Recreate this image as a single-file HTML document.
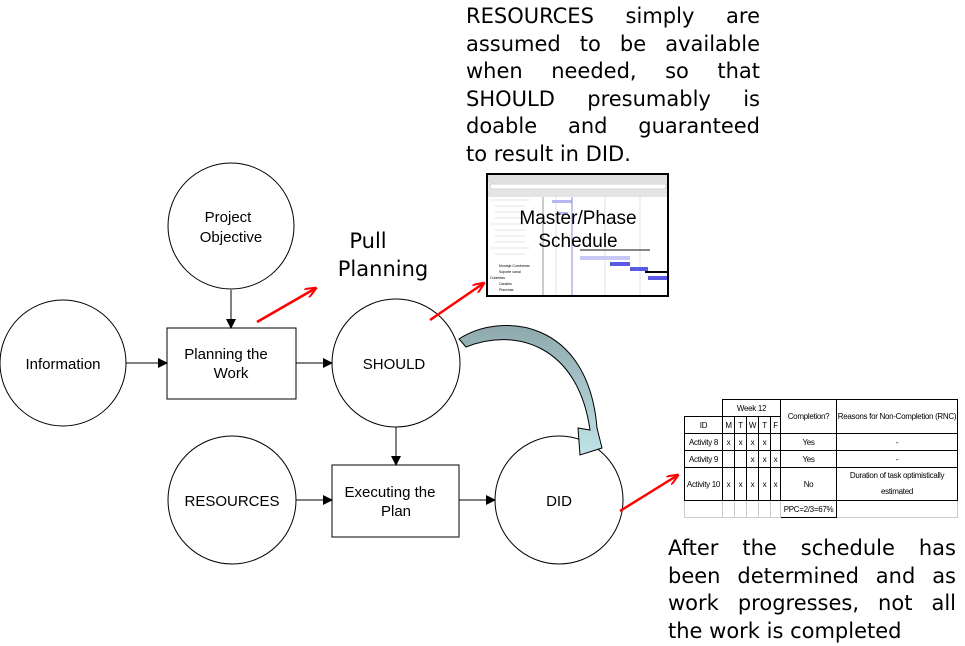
<!DOCTYPE html>
<html><head><meta charset="utf-8"><style>
body{margin:0;width:965px;height:646px;background:#fff;position:relative;overflow:hidden;font-family:"Liberation Sans",sans-serif}
.t{position:absolute;font-family:"DejaVu Sans","Liberation Sans",sans-serif;font-size:21px;line-height:27.5px;text-align:justify;text-align-last:justify;color:#000}
.t span{display:block}
.t span.l{text-align-last:left}
table{position:absolute;left:684px;top:399px;border-collapse:collapse;table-layout:fixed;width:273px;font-family:"Liberation Sans Narrow","Liberation Sans",sans-serif;font-size:8px;letter-spacing:-0.3px}
td{border:1px solid #000;text-align:center;padding:0;height:16px;white-space:nowrap;overflow:hidden;line-height:15px}
</style></head><body>
<svg width="965" height="646" style="position:absolute;left:0;top:0">
<defs><marker id="a" markerWidth="10" markerHeight="10" refX="9" refY="5" orient="auto" markerUnits="userSpaceOnUse"><path d="M0,0 L10,5 L0,10 z" fill="#000"/></marker>
<marker id="r" markerWidth="12" markerHeight="10" refX="11" refY="5" orient="auto" markerUnits="userSpaceOnUse"><path d="M0,0 L12,5 L0,10" fill="none" stroke="red" stroke-width="2"/></marker>
<linearGradient id="g" x1="0" y1="0" x2="0" y2="1"><stop offset="0" stop-color="#8fa9ad"/><stop offset="1" stop-color="#bfe3e8"/></linearGradient></defs>
<g fill="#fff" stroke="#000" stroke-width="1">
<circle cx="231" cy="226" r="63"/><circle cx="63" cy="363" r="63"/><circle cx="396" cy="363" r="64"/><circle cx="232" cy="500" r="64"/><circle cx="559" cy="500" r="64"/>
<rect x="167" y="328" width="129" height="71"/><rect x="332" y="465" width="127" height="72"/>
</g>
<g stroke="#000" stroke-width="1" marker-end="url(#a)">
<line x1="231" y1="290" x2="231" y2="328"/><line x1="126" y1="363" x2="167" y2="363"/><line x1="296" y1="363" x2="332" y2="363"/>
<line x1="396" y1="427" x2="396" y2="465"/><line x1="296" y1="500" x2="332" y2="500"/><line x1="459" y1="500" x2="495" y2="500"/>
</g>
<g stroke="red" stroke-width="2.5" marker-end="url(#r)">
<line x1="257" y1="322" x2="316" y2="288"/><line x1="430" y1="320" x2="484" y2="283"/><line x1="620" y1="511" x2="678" y2="475"/>
</g>
<path d="M459,339 C500,312 588,318 597,428 L602,448 L580,455 L578,428 L590,430 C578,345 515,327 466,347 Z" fill="url(#g)" stroke="#000" stroke-width="1"/>
<g font-size="15" text-anchor="middle" font-family="Liberation Sans,sans-serif">
<text x="228" y="222">Project</text><text x="231" y="242">Objective</text>
<text x="63" y="369">Information</text>
<text x="226" y="359">Planning the</text><text x="231" y="378">Work</text>
<text x="394" y="369">SHOULD</text>
<text x="232" y="506">RESOURCES</text>
<text x="390" y="497">Executing the</text><text x="396" y="516">Plan</text>
<text x="559" y="506">DID</text>
</g>
<g font-size="21" text-anchor="middle" font-family="DejaVu Sans,sans-serif"><text x="368" y="248">Pull</text><text x="383" y="276">Planning</text></g>
<g>
<rect x="487" y="174" width="181" height="122" fill="#f4f4f4" stroke="#000" stroke-width="2"/>
<rect x="488" y="175" width="179" height="8" fill="#e0e0e0"/>
<rect x="490" y="184" width="176" height="5" fill="#fff" stroke="#999" stroke-width=".5"/>
<rect x="488" y="190" width="55" height="105" fill="#fff"/>
<rect x="543" y="190" width="124" height="105" fill="#fff"/>
<g stroke="#ccc" stroke-width=".6"><line x1="490" y1="200" x2="530" y2="200"/><line x1="495" y1="206" x2="525" y2="206"/><line x1="495" y1="212" x2="525" y2="212"/><line x1="495" y1="218" x2="525" y2="218"/><line x1="490" y1="224" x2="525" y2="224"/><line x1="495" y1="230" x2="525" y2="230"/><line x1="495" y1="236" x2="525" y2="236"/><line x1="495" y1="242" x2="525" y2="242"/><line x1="490" y1="248" x2="530" y2="248"/><line x1="495" y1="254" x2="525" y2="254"/><line x1="556" y1="190" x2="556" y2="295"/><line x1="572" y1="190" x2="572" y2="295"/><line x1="605" y1="190" x2="605" y2="295"/><line x1="640" y1="190" x2="640" y2="295"/></g>
<rect x="552" y="200" width="20" height="3" fill="#b8b8f0"/><rect x="558" y="212" width="10" height="3" fill="#b8b8f0"/>
<line x1="543" y1="190" x2="543" y2="295" stroke="#999"/>
<line x1="572" y1="190" x2="572" y2="295" stroke="#8888e0"/>
<rect x="488" y="190" width="179" height="7" fill="#e4e4e4"/>
<rect x="580" y="256" width="50" height="4" fill="#c8c8f4"/>
<rect x="610" y="262" width="20" height="4" fill="#5a5ae6"/><rect x="630" y="267" width="18" height="4" fill="#5a5ae6"/><rect x="648" y="276" width="19" height="4" fill="#5a5ae6"/>
<line x1="645" y1="272" x2="667" y2="272" stroke="#000" stroke-width="2"/>
<line x1="580" y1="250" x2="650" y2="250" stroke="#888" stroke-width="2"/>
<g font-size="3.5" fill="#000"><text x="499" y="267">Montaje Cumbreras</text><text x="499" y="273">Soporte canal</text><text x="490" y="279">Cubiertas</text><text x="499" y="285">Canales</text><text x="499" y="291">Planchas</text></g>
<text x="578" y="224" font-size="19" text-anchor="middle" font-family="Liberation Sans,sans-serif">Master/Phase</text>
<text x="578" y="247" font-size="19" text-anchor="middle" font-family="Liberation Sans,sans-serif">Schedule</text>
</g>
</svg>
<div class="t" style="left:466px;top:3px;width:294px"><span>RESOURCES simply are</span><span>assumed to be available</span><span>when needed, so that</span><span>SHOULD presumably is</span><span>doable and guaranteed</span><span class="l">to result in DID.</span></div>
<div class="t" style="left:668px;top:535px;width:288px"><span>After the schedule has</span><span>been determined and as</span><span>work progresses, not all</span><span class="l">the work is completed</span></div>
<table>
<colgroup><col style="width:38px"><col style="width:12px"><col style="width:12px"><col style="width:12px"><col style="width:12px"><col style="width:10px"><col style="width:56px"><col style="width:121px"></colgroup>
<tr><td style="border-top-color:#fff;border-left-color:#fff"></td><td colspan="5">Week 12</td><td rowspan="2">Completion?</td><td rowspan="2">Reasons for Non-Completion (RNC)</td></tr>
<tr><td>ID</td><td>M</td><td>T</td><td>W</td><td>T</td><td>F</td></tr>
<tr><td>Activity 8</td><td>x</td><td>x</td><td>x</td><td>x</td><td></td><td>Yes</td><td>-</td></tr>
<tr><td>Activity 9</td><td></td><td></td><td>x</td><td>x</td><td>x</td><td>Yes</td><td>-</td></tr>
<tr><td style="height:32px">Activity 10</td><td>x</td><td>x</td><td>x</td><td>x</td><td>x</td><td>No</td><td style="line-height:16px">Duration of task optimistically<br>estimated</td></tr>
<tr><td style="border-color:#ccc;height:14px"></td><td style="border-color:#ccc"></td><td style="border-color:#ccc"></td><td style="border-color:#ccc"></td><td style="border-color:#ccc"></td><td style="border-color:#ccc"></td><td>PPC=2/3=67%</td><td style="border-color:#ccc"></td></tr>
</table>
</body></html>
